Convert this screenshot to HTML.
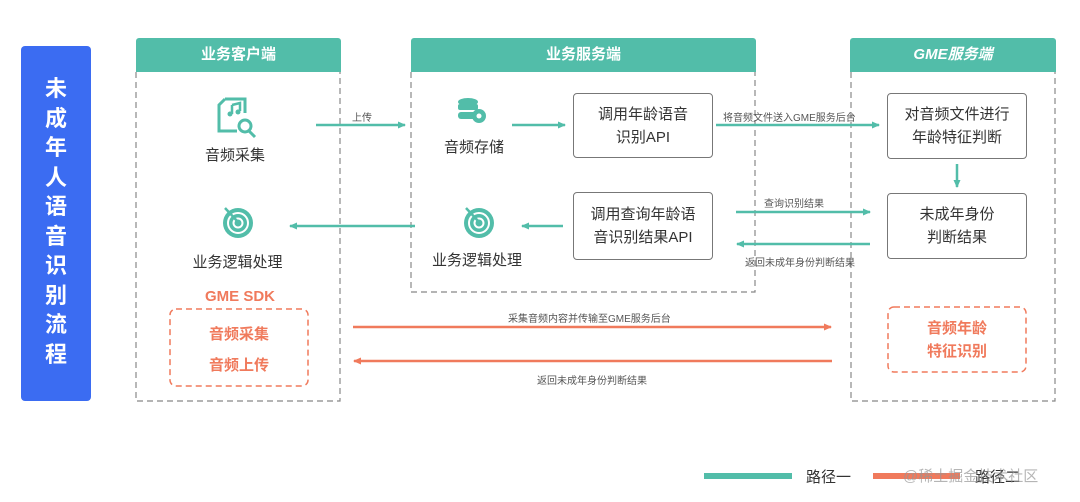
<!DOCTYPE html>
<html><head><meta charset="utf-8"><style>
html,body{margin:0;padding:0;background:#fff;}
body{width:1080px;height:502px;position:relative;overflow:hidden;font-family:"Liberation Sans","Noto Sans CJK SC",sans-serif;color:#333;}
.a{position:absolute;white-space:nowrap;}
.c{text-align:center;}
.hdr{position:absolute;height:34px;background:#52bda9;color:#fff;font-weight:bold;font-size:15px;line-height:34px;text-align:center;border-radius:3px 3px 0 0;}
.box{position:absolute;border:1.5px solid #777;border-radius:4px;background:#fff;font-size:15px;line-height:23px;text-align:center;color:#333;display:flex;align-items:center;justify-content:center;box-sizing:border-box;}
.lbl{position:absolute;font-size:10px;color:#555;white-space:nowrap;}
.or{color:#f07a5c;font-weight:bold;}
</style></head><body>
<svg width="1080" height="502" style="position:absolute;left:0;top:0">
<defs>
<marker id="ta" markerWidth="8" markerHeight="8" refX="7" refY="4" orient="auto" markerUnits="userSpaceOnUse"><path d="M0,0.5 L8,4 L0,7.5 Z" fill="#52bda9"/></marker>
<marker id="oa" markerWidth="8" markerHeight="8" refX="7" refY="4" orient="auto" markerUnits="userSpaceOnUse"><path d="M0,0.5 L8,4 L0,7.5 Z" fill="#f07a5c"/></marker>
</defs>
<rect x="21" y="46" width="70" height="355" rx="4" fill="#3b6cf2"/>
<g fill="none" stroke="#888" stroke-width="1.2" stroke-dasharray="6,4">
<path d="M136,72 V401 H340 V72"/>
<path d="M411,72 V292 H755 V72"/>
<path d="M851,72 V401 H1055 V72"/>
</g>
<rect x="170" y="309" width="138" height="77" rx="6" fill="none" stroke="#f07a5c" stroke-width="1.5" stroke-dasharray="6,4"/>
<rect x="888" y="307" width="138" height="65" rx="6" fill="none" stroke="#f07a5c" stroke-width="1.5" stroke-dasharray="6,4"/>
<g stroke="#52bda9" stroke-width="2.5" fill="none">
<line x1="316" y1="125" x2="405" y2="125" marker-end="url(#ta)"/>
<line x1="512" y1="125" x2="565" y2="125" marker-end="url(#ta)"/>
<line x1="716" y1="125" x2="879" y2="125" marker-end="url(#ta)"/>
<line x1="957" y1="164" x2="957" y2="187" marker-end="url(#ta)"/>
<line x1="736" y1="212" x2="870" y2="212" marker-end="url(#ta)"/>
<line x1="870" y1="244" x2="737" y2="244" marker-end="url(#ta)"/>
<line x1="563" y1="226" x2="522" y2="226" marker-end="url(#ta)"/>
<line x1="415" y1="226" x2="290" y2="226" marker-end="url(#ta)"/>
</g>
<g stroke="#f07a5c" stroke-width="2.5" fill="none">
<line x1="353" y1="327" x2="831" y2="327" marker-end="url(#oa)"/>
<line x1="832" y1="361" x2="354" y2="361" marker-end="url(#oa)"/>
</g>
<!-- icons -->
<g fill="none" stroke="#52bda9" stroke-width="3">
<path d="M225,99 h20 v14 M225,99 l-6,6 v26 h18"/>
<circle cx="245" cy="126" r="6"/><line x1="249" y1="131" x2="255" y2="137"/>
</g>
<path d="M232,105 v9 M232,105 l8,-2 v8" stroke="#52bda9" stroke-width="2.5" fill="none"/>
<circle cx="230" cy="114" r="2.5" fill="#52bda9"/><circle cx="238" cy="112" r="2.5" fill="#52bda9"/>
<g fill="#52bda9">
<ellipse cx="468" cy="102" rx="10" ry="4"/>
<rect x="458" y="104" width="20" height="6" rx="2"/>
<rect x="458" y="112" width="20" height="7" rx="3"/>
<circle cx="479" cy="116" r="7"/>
</g>
<circle cx="479" cy="116" r="2.5" fill="#fff"/>
<g>
<circle cx="238" cy="223" r="15" fill="#52bda9"/><circle cx="238" cy="223" r="10" fill="none" stroke="#fff" stroke-width="2"/><circle cx="238" cy="223" r="4.5" fill="none" stroke="#fff" stroke-width="2"/>
<line x1="225" y1="208" x2="238" y2="222" stroke="#52bda9" stroke-width="2.5"/>
<circle cx="479" cy="223" r="15" fill="#52bda9"/><circle cx="479" cy="223" r="10" fill="none" stroke="#fff" stroke-width="2"/><circle cx="479" cy="223" r="4.5" fill="none" stroke="#fff" stroke-width="2"/>
<line x1="466" y1="208" x2="479" y2="222" stroke="#52bda9" stroke-width="2.5"/>
</g>
<line x1="704" y1="476" x2="792" y2="476" stroke="#52bda9" stroke-width="6"/>
<line x1="873" y1="476" x2="960" y2="476" stroke="#f07a5c" stroke-width="6"/>
</svg>
<div class="a c" style="left:21px;top:74px;width:70px;color:#fff;font-weight:bold;font-size:22px;line-height:29.5px;">未<br>成<br>年<br>人<br>语<br>音<br>识<br>别<br>流<br>程</div>
<div class="hdr" style="left:136px;top:38px;width:205px;">业务客户端</div>
<div class="hdr" style="left:411px;top:38px;width:345px;">业务服务端</div>
<div class="hdr" style="left:850px;top:38px;width:206px;font-style:italic;">GME服务端</div>
<div class="a c" style="left:185px;top:144px;width:100px;font-size:15px;">音频采集</div>
<div class="a c" style="left:175px;top:251px;width:125px;font-size:15px;">业务逻辑处理</div>
<div class="a c" style="left:424px;top:136px;width:100px;font-size:15px;">音频存储</div>
<div class="a c" style="left:417px;top:249px;width:120px;font-size:15px;">业务逻辑处理</div>
<div class="box" style="left:573px;top:93px;width:140px;height:65px;">调用年龄语音<br>识别API</div>
<div class="box" style="left:573px;top:192px;width:140px;height:68px;">调用查询年龄语<br>音识别结果API</div>
<div class="box" style="left:887px;top:93px;width:140px;height:66px;">对音频文件进行<br>年龄特征判断</div>
<div class="box" style="left:887px;top:193px;width:140px;height:66px;">未成年身份<br>判断结果</div>
<div class="lbl" style="left:352px;top:109px;">上传</div>
<div class="lbl" style="left:723px;top:109px;">将音频文件送入GME服务后台</div>
<div class="lbl" style="left:764px;top:195px;">查询识别结果</div>
<div class="lbl" style="left:745px;top:254px;">返回未成年身份判断结果</div>
<div class="lbl" style="left:508px;top:310px;">采集音频内容并传输至GME服务后台</div>
<div class="lbl" style="left:537px;top:372px;">返回未成年身份判断结果</div>
<div class="a c or" style="left:170px;top:288px;width:140px;font-size:15px;">GME SDK</div>
<div class="a c or" style="left:170px;top:319px;width:138px;font-size:15px;line-height:31px;">音频采集<br>音频上传</div>
<div class="a c or" style="left:888px;top:317px;width:138px;font-size:15px;line-height:23px;">音频年龄<br>特征识别</div>
<div class="a" style="left:806px;top:466px;font-size:15px;">路径一</div>
<div class="a" style="left:975px;top:466px;font-size:15px;">路径二</div>
<div class="a" style="left:903px;top:465px;font-size:15px;color:rgba(150,150,150,0.7);">@稀土掘金技术社区</div>
</body></html>
